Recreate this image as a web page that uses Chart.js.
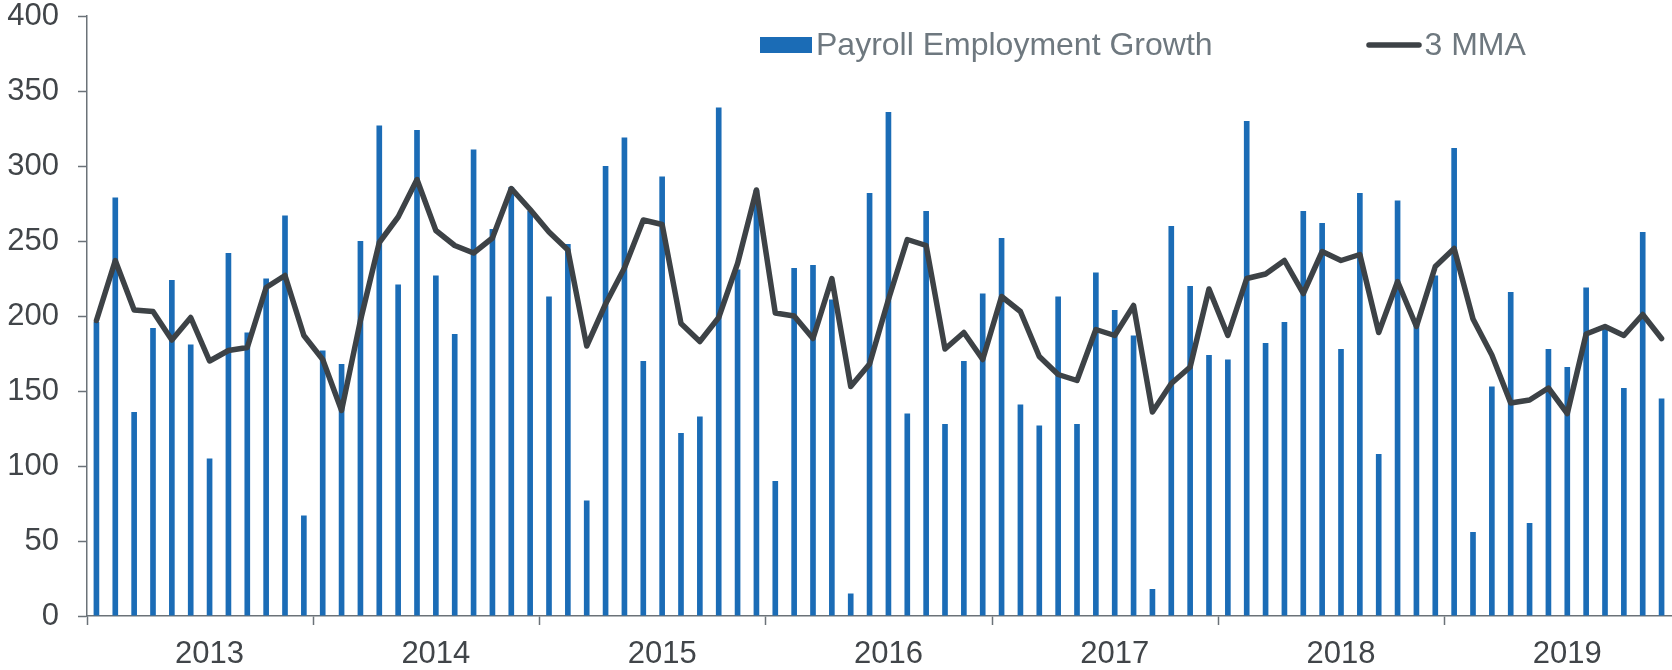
<!DOCTYPE html>
<html>
<head>
<meta charset="utf-8">
<script src="https://cdn.jsdelivr.net/npm/chart.js@4.4.1/dist/chart.umd.min.js"></script>
<style>
  html, body { margin: 0; padding: 0; background: #ffffff; }
  #wrap { width: 1672px; height: 670px; }
</style>
</head>
<body>
<div id="wrap"><canvas id="c" width="1672" height="670"></canvas></div>
<script>
// ---- data ----
const years = ['2013', '2014', '2015', '2016', '2017', '2018', '2019'];

const payrollGrowth = [
  196, 279, 136, 192, 224, 181, 105, 242, 189, 225, 267, 67,   // 2013
  177, 168, 250, 327, 221, 324, 227, 188, 311, 258, 286, 270,  // 2014
  213, 248, 77, 300, 319, 170, 293, 122, 133, 339, 231, 284,   // 2015
  90, 232, 234, 211, 15, 282, 336, 135, 270, 128, 170, 215,    // 2016
  252, 141, 127, 213, 128, 229, 204, 187, 18, 260, 220, 174,   // 2017
  171, 330, 182, 196, 270, 262, 178, 282, 108, 277, 196, 227,  // 2018
  312, 56, 153, 216, 62, 178, 166, 219, 193, 152, 256, 145     // 2019
];

const mma3 = [
  197, 237, 204, 203, 184, 199, 170, 177, 179, 219, 227, 187,
  171, 137, 197, 249, 266, 291, 257, 247, 242, 252, 285, 271,
  256, 244, 180, 208, 232, 264, 261, 195, 183, 199, 235, 284,
  202, 200, 185, 225, 153, 168, 211, 251, 247, 178, 189, 171,
  213, 203, 173, 161, 157, 191, 187, 207, 136, 155, 166, 218,
  187, 225, 228, 237, 215, 243, 237, 241, 189, 223, 193, 233,
  245, 198, 174, 142, 144, 152, 135, 188, 193, 187, 201, 185
];

const yTicks = [0, 50, 100, 150, 200, 250, 300, 350, 400];
const seriesNames = ['Payroll Employment Growth', '3 MMA'];

// ---- categories built from the years ----
const monthsPerYear = 12;
const categories = [];
years.forEach(y => { for (let m = 1; m <= monthsPerYear; m++) categories.push(y + '-' + String(m).padStart(2, '0')); });

// ---- styles ----
const BAR_COLOR = '#1b6cb6';
const LINE_COLOR = '#3d4246';
const AXIS_COLOR = '#6b7278';
const TICK_TEXT = '#414549';
const LEGEND_TEXT = '#6e787f';
const FONT = '"Liberation Sans", Arial, sans-serif';

const legendPlugin = {
  id: 'customLegend',
  afterDraw(chart) {
    const ctx = chart.ctx;
    ctx.save();
    ctx.font = '32px ' + FONT;
    ctx.textBaseline = 'middle';
    ctx.textAlign = 'left';
    // bar item
    ctx.fillStyle = chart.data.datasets[1].backgroundColor;
    ctx.fillRect(760, 37, 52, 16);
    ctx.fillStyle = LEGEND_TEXT;
    ctx.fillText(chart.data.datasets[1].label, 816, 46);
    // line item
    ctx.strokeStyle = chart.data.datasets[0].borderColor;
    ctx.lineWidth = 5.5;
    ctx.lineCap = 'round';
    ctx.beginPath();
    ctx.moveTo(1369, 45);
    ctx.lineTo(1419, 45);
    ctx.stroke();
    ctx.fillStyle = LEGEND_TEXT;
    ctx.fillText(chart.data.datasets[0].label, 1424.5, 46);
    ctx.restore();
  }
};

new Chart(document.getElementById('c'), {
  type: 'bar',
  data: {
    labels: categories,
    datasets: [
      {
        type: 'line',
        label: seriesNames[1],
        data: mma3,
        borderColor: LINE_COLOR,
        backgroundColor: LINE_COLOR,
        borderWidth: 5.5,
        pointRadius: 0,
        tension: 0,
        borderJoinStyle: 'round',
        borderCapStyle: 'round',
        order: 0
      },
      {
        type: 'bar',
        label: seriesNames[0],
        data: payrollGrowth,
        backgroundColor: BAR_COLOR,
        borderWidth: 0,
        barPercentage: 0.3,
        categoryPercentage: 1.0,
        order: 1
      }
    ]
  },
  options: {
    responsive: false,
    animation: false,
    devicePixelRatio: 1,
    layout: { padding: { top: 0, right: 1, left: 0, bottom: 0 } },
    plugins: {
      legend: { display: false },
      tooltip: { enabled: false }
    },
    scales: {
      x: {
        type: 'category',
        offset: true,
        afterFit: s => { s.height = 54; s.paddingLeft = 0; s.paddingRight = 0; },
        grid: {
          offset: true,
          drawOnChartArea: false,
          drawTicks: true,
          tickLength: 9,
          tickWidth: 1.5,
          tickColor: ctx => (ctx.index % monthsPerYear === 0 ? AXIS_COLOR : 'rgba(0,0,0,0)')
        },
        border: { display: true, color: AXIS_COLOR, width: 1.5 },
        ticks: {
          autoSkip: false,
          maxRotation: 0,
          minRotation: 0,
          padding: 14,
          color: TICK_TEXT,
          font: { family: FONT, size: 31, lineHeight: 1 },
          callback: (v, i) => (i % monthsPerYear === 6 ? years[Math.floor(i / monthsPerYear)] : '')
        }
      },
      y: {
        min: yTicks[0],
        max: yTicks[yTicks.length - 1],
        afterFit: s => { s.width = 87; s.paddingTop = 16; s.paddingBottom = 0; },
        afterBuildTicks: s => { s.ticks = yTicks.map(v => ({ value: v })); },
        grid: {
          drawOnChartArea: false,
          drawTicks: true,
          tickLength: 9,
          tickWidth: 1.5,
          tickColor: AXIS_COLOR
        },
        border: { display: true, color: AXIS_COLOR, width: 1.5 },
        ticks: {
          padding: 19,
          color: TICK_TEXT,
          font: { family: FONT, size: 31, lineHeight: 1 }
        }
      }
    }
  },
  plugins: [legendPlugin]
});
</script>
</body>
</html>
